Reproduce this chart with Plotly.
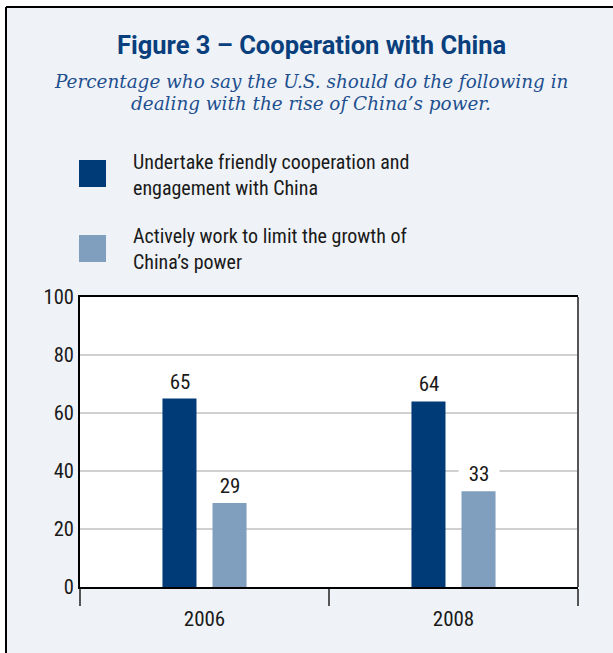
import plotly.graph_objects as go

# ---- data ----
years = ["2006", "2008"]
series_names = [
    "Undertake friendly cooperation and<br>engagement with China",
    "Actively work to limit the growth of<br>China’s power",
]
cooperate = [65, 64]
limit = [29, 33]
y_ticks = [0, 20, 40, 60, 80, 100]

title_text = "Figure 3 – Cooperation with China"
subtitle_1 = "Percentage who say the U.S. should do the following in"
subtitle_2 = "dealing with the rise of China’s power."

DARK = "#003b78"
LIGHT = "#809fbf"
BG = "#eff3f7"
TXT = "#1a1a1a"
NARROW = "Liberation Sans Narrow, Roboto Condensed, Arial Narrow, Roboto, sans-serif"

W, H = 613, 653
ML, MR, MT, MB = 80, 35, 297, 66
PW, PH = W - ML - MR, H - MT - MB


def px(x):
    return (x - ML) / PW


def py(y):
    return (H - MB - y) / PH


fig = go.Figure()
for name, vals, col in [(series_names[0], cooperate, DARK), (series_names[1], limit, LIGHT)]:
    fig.add_trace(go.Bar(x=years, y=vals, name=name, marker=dict(color=col, line=dict(width=0)),
                         showlegend=False))

annotations = []
# value labels (x given as category index)
for vals, shift in [(cooperate, -25), (limit, 25)]:
    for i, v in enumerate(vals):
        annotations.append(dict(x=i, y=v, xref="x", yref="y", text=str(v), showarrow=False,
                                xshift=shift, yshift=3, yanchor="bottom", xanchor="center",
                                bgcolor="white", width=38, borderpad=1,
                                font=dict(family=NARROW, size=21, color=TXT)))

# title / subtitle
annotations.append(dict(x=px(311), y=py(45), xref="paper", yref="paper", text=f"<b>{title_text}</b>",
                        showarrow=False, xanchor="center", yanchor="middle",
                        font=dict(family="Roboto, Open Sans, sans-serif", size=25.5, color="#0a3f7d")))
for txt, yy in [(subtitle_1, 81), (subtitle_2, 104)]:
    annotations.append(dict(x=px(311), y=py(yy), xref="paper", yref="paper", text=f"<i>{txt}</i>",
                            showarrow=False, xanchor="center", yanchor="middle",
                            font=dict(family="DejaVu Serif, serif", size=18.4, color="#1e4f8f")))

# legend (manual, large swatches)
shapes = []
for name, col, top, center in [(series_names[0], DARK, 160, 175), (series_names[1], LIGHT, 235, 248.5)]:
    shapes.append(dict(type="rect", xref="paper", yref="paper", x0=px(79), x1=px(106),
                       y0=py(top), y1=py(top + 27), fillcolor=col, line=dict(width=0)))
    annotations.append(dict(x=px(131), y=py(center), xref="paper", yref="paper", text=name,
                            showarrow=False, xanchor="left", yanchor="middle", align="left",
                            font=dict(family=NARROW, size=20, color=TXT)))

# outer frame: white strip top/left with black border
shapes += [
    dict(type="rect", xref="paper", yref="paper", x0=px(0), x1=px(W), y0=py(0), y1=py(7),
         fillcolor="white", line=dict(width=0), layer="below"),
    dict(type="rect", xref="paper", yref="paper", x0=px(0), x1=px(6), y0=py(0), y1=py(H),
         fillcolor="white", line=dict(width=0), layer="below"),
    dict(type="line", xref="paper", yref="paper", x0=px(6), x1=px(W), y0=py(7), y1=py(7),
         line=dict(color="black", width=2)),
    dict(type="line", xref="paper", yref="paper", x0=px(6), x1=px(6), y0=py(7), y1=py(H),
         line=dict(color="black", width=2)),
    # right plot border (gray)
    dict(type="line", xref="paper", yref="paper", x0=1, x1=1, y0=0, y1=1,
         line=dict(color="#555555", width=2)),
]

fig.update_layout(
    width=W, height=H,
    margin=dict(l=ML, r=MR, t=MT, b=MB, autoexpand=False),
    paper_bgcolor=BG, plot_bgcolor="white",
    barmode="group", bargap=0.598, bargroupgap=0.32,
    showlegend=False,
    annotations=annotations, shapes=shapes,
    font=dict(family=NARROW, size=20, color=TXT),
)
fig.update_xaxes(type="category", range=[-0.5, 1.5], showline=True, linecolor="black", linewidth=2,
                 mirror=True, ticks="outside", tickson="boundaries", ticklen=17, tickwidth=2,
                 tickcolor="#555555", showgrid=False, tickangle=0,
                 tickfont=dict(family=NARROW, size=21, color=TXT), ticklabelstandoff=12)
fig.update_yaxes(range=[0, 100], tickvals=y_ticks, showline=True, linecolor="black", linewidth=2,
                 showgrid=True, gridcolor="#d0d0d0", gridwidth=2, ticks="", zeroline=False,
                 tickfont=dict(family=NARROW, size=20.5, color=TXT))

fig.write_html("out.html")
